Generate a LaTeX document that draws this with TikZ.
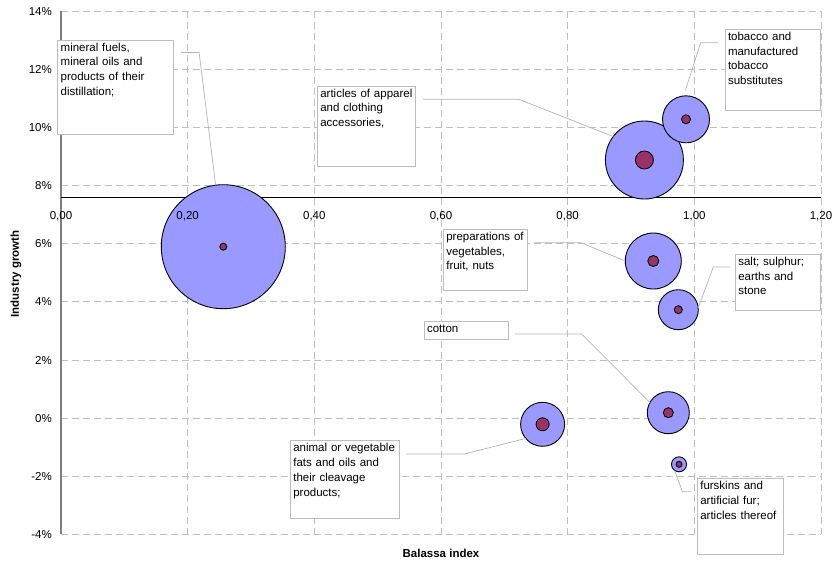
\documentclass[tikz,border=0pt]{standalone}
\usepackage{fontspec}
\setmainfont{Liberation Sans}
\usepackage{xcolor}
\usepackage{tikz}

\definecolor{bubfill}{HTML}{9999FF}
\definecolor{corefill}{HTML}{993366}
\definecolor{gridgray}{HTML}{C0C0C0}
\definecolor{boxgray}{HTML}{BDBDBD}
\definecolor{leadgray}{HTML}{B4B4B4}
\definecolor{axisgray}{HTML}{808080}

\begin{document}
\begin{tikzpicture}[x=1pt, y=-1pt,
		every node/.style={font=\fontsize{11.5}{14.8}\selectfont},
		grid/.style={draw=gridgray, line width=0.8pt, dash pattern=on 7pt off 4pt},
		bubble/.style={circle, draw=black, line width=0.9pt, fill=bubfill, inner sep=0pt, outer sep=0pt},
		core/.style={circle, draw=black, line width=0.9pt, fill=corefill, inner sep=0pt, outer sep=0pt},
		tick/.style={inner sep=0pt, text height=8.2pt, text depth=0pt},
		title/.style={font=\fontsize{11.5}{14.8}\selectfont\bfseries},
		tag/.style={draw=boxgray, line width=0.7pt, fill=white, anchor=north west, align=left,
			inner xsep=3pt, inner ysep=0pt, outer sep=0pt, text height=11pt},
		leader/.style={draw=leadgray, line width=0.7pt}]
	
	\useasboundingbox (0,0) rectangle (835,566);
	
	%Grid
	\foreach \k in {0,...,9}
		\draw[grid] (61,{11+\k*58.15}) -- (821,{11+\k*58.15});
	\foreach \i in {1,...,6}
		\draw[grid] ({61+\i*126.67},11) -- ({61+\i*126.67},534.3);
	
	%Axes
	\draw[draw=axisgray, line width=1.7pt] (61,11) -- (61,534.3);
	\draw[draw=black, line width=0.9pt] (61,197.3) -- (821,197.3);
	
	%Bubbles
	\node[bubble, minimum size=124pt] (mfb) at (223.3,246.7) {};
	\node[core, minimum size=7pt] (mfc) at (mfb) {};
	\node[bubble, minimum size=78pt] (appb) at (644.4,160) {};
	\node[core, minimum size=18pt] (appc) at (appb) {};
	\node[bubble, minimum size=47pt] (tobb) at (686,119.3) {};
	\node[core, minimum size=9pt] (tobc) at (tobb) {};
	\node[bubble, minimum size=56pt] (vegb) at (653.3,261) {};
	\node[core, minimum size=11pt] (vegc) at (vegb) {};
	\node[bubble, minimum size=40pt] (saltb) at (678.3,309.7) {};
	\node[core, minimum size=8pt] (saltc) at (saltb) {};
	\node[bubble, minimum size=42pt] (cotb) at (668.3,412.7) {};
	\node[core, minimum size=10pt] (cotc) at (cotb) {};
	\node[bubble, minimum size=44pt] (fatb) at (542.6,424.3) {};
	\node[core, minimum size=13pt] (fatc) at (fatb) {};
	\node[bubble, minimum size=15pt] (furb) at (679,464.3) {};
	\node[core, minimum size=6pt] (furc) at (furb) {};
	
	%Tick labels
	\foreach \v [count=\k from 0] in {14,12,...,-4}
		\node[tick, anchor=east] (yl\k) at (52,{11+\k*58.15}) {\v\%};
	\foreach \t [count=\i from 0] in {{0,00},{0,20},{0,40},{0,60},{0,80},{1,00},{1,20}}
		\node[tick] (xl\i) at ({61+\i*126.67},215) {\t};
	
	%Axis titles
	\node[title, rotate=90] (ytitle) at (16,274) {Industry growth};
	\node[title] (xtitle) at (441,553.3) {Balassa index};
	
	%Labels
	\node[tag, text width=109.6pt, text depth=83.3pt] (mf) at (57.7,40) {mineral fuels,\\mineral oils and\\products of their\\distillation;};
	\node[tag, text width=92.4pt, text depth=69pt] (app) at (317.3,86) {articles of apparel\\and clothing\\accessories,};
	\node[tag, text width=89pt, text depth=69.7pt] (tob) at (725,29.3) {tobacco and\\manufactured\\tobacco\\substitutes};
	\node[tag, text width=78.4pt, text depth=50.4pt] (veg) at (443.3,229.3) {preparations of\\vegetables,\\fruit, nuts};
	\node[tag, text width=78.7pt, text depth=45pt] (salt) at (735.3,254.3) {salt; sulphur;\\earths and\\stone};
	\node[tag, text width=78.7pt, text depth=6.6pt] (cot) at (424,321.7) {cotton};
	\node[tag, text width=102.8pt, text depth=66.6pt] (fat) at (290.3,440.7) {animal or vegetable\\fats and oils and\\their cleavage\\products;};
	\node[tag, text width=79.7pt, text depth=64.3pt] (fur) at (697.3,478.7) {furskins and\\artificial fur;\\articles thereof};
	
	%Leader lines
	\draw[leader] ([xshift=7.5pt,yshift=-12.5pt]mf.north east) -- ++(18.3,0) -- (mfb);
	\draw[leader] ([xshift=7.5pt,yshift=-13.3pt]app.north east) -- ++(95.7,0) -- (appb.143);
	\draw[leader, shorten >=6pt] ([xshift=-6.7pt,yshift=-13.4pt]tob.north west) -- ++(-17.6,0) -- (tobb.96);
	\draw[leader] ([xshift=6.6pt,yshift=-13.4pt]veg.north east) -- ++(46.7,0) -- (vegb.west);
	\draw[leader] ([xshift=-5.3pt,yshift=-12.7pt]salt.north west) -- ++(-16.7,0) -- (saltb.5);
	\draw[leader] ([xshift=6.3pt,yshift=-12.3pt]cot.north east) -- ++(66.7,0) -- (cotb.151);
	\draw[leader] ([xshift=6.7pt,yshift=-13.3pt]fat.north east) -- ++(58.5,0) -- (fatb.220);
	\draw[leader] ([xshift=-5.6pt,yshift=-13pt]fur.north west) -- ++(-9.3,0) -- (furb.235);
\end{tikzpicture}
\end{document}
